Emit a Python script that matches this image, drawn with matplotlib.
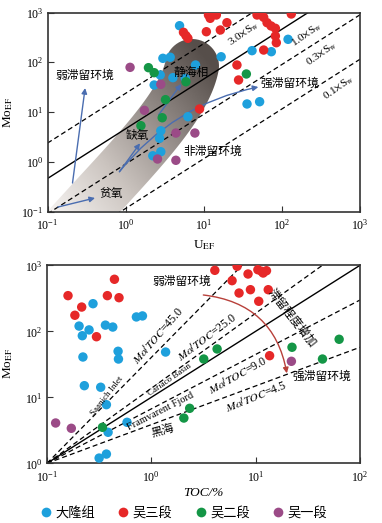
"""
Mo_EF vs U_EF and Mo_EF vs TOC cross-plots (two stacked log-log panels)
Output: out.png
"""

import matplotlib
matplotlib.use("Agg")
import matplotlib.pyplot as plt
import numpy as np
from matplotlib.colors import LinearSegmentedColormap
from matplotlib.patches import Polygon
from matplotlib.lines import Line2D
from matplotlib.ticker import LogLocator, NullLocator

plt.rcParams["font.family"] = ["Liberation Serif", "Noto Sans CJK SC"]
plt.rcParams["mathtext.fontset"] = "stix"

# ── data: top panel (U_EF, Mo_EF) ─────────────────────────────────────────────
u_dalong  = [4.9, 3.0, 3.72, 7.85, 2.77, 4.03, 5.8, 2.32, 6.27, 2.82, 2.72, 2.82, 2.23,
             120, 41.5, 73.3, 16.7, 35.8, 51.9]
mo_dalong = [543, 120, 126, 88, 55.5, 49, 47.5, 34.9, 8.05, 4.2, 2.96, 1.59, 1.32,
             289, 171, 163, 129, 14.5, 16.1]

u_wu3  = [5.5, 5.92, 6.27, 10.8, 8.83, 11.5, 14.5, 12.1, 19.8, 16.3, 48.1, 54.6, 58.5,
          64.6, 72.8, 82.6, 82.6, 84.9, 58.5, 132, 26.6, 27.9]
mo_wu3 = [400, 342, 303, 411, 11.5, 891, 891, 764, 624, 445, 891, 891, 800,
          624, 536, 481, 337, 247, 176, 933, 88, 44]

u_wu2  = [1.96, 2.32, 5.92, 3.24, 2.94, 1.57, 35.1]
mo_wu2 = [77.8, 61.7, 40.6, 17.7, 7.67, 5.31, 58.1]

u_wu1  = [1.14, 2.82, 1.74, 4.4, 7.7, 2.56, 4.4]
mo_wu1 = [79, 36, 10.8, 3.78, 3.78, 1.135, 1.07]

# Mo_EF / U_EF reference lines (3.0, 1.0, 0.3, 0.1 x seawater)
sw_ratio   = [23.7, 4.6, 0.9, 0.115]
sw_labels  = [r"3.0$\times$S$_{\rm w}$", r"1.0$\times$S$_{\rm w}$",
              r"0.3$\times$S$_{\rm w}$", r"0.1$\times$S$_{\rm w}$"]
sw_styles  = ["--", "-", "--", "--"]

# ── data: bottom panel (TOC %, Mo_EF) ─────────────────────────────────────────
toc_dalong = [0.276, 0.203, 0.253, 0.218, 0.363, 0.427, 0.719, 0.822, 0.221, 0.480,
              0.484, 1.37, 0.228, 0.327, 0.371, 0.585, 0.385, 0.316, 0.371]
mo2_dalong = [262, 120, 105, 85.7, 124, 116, 165, 171, 40.8, 49.8,
              38.0, 48.5, 15.0, 14.2, 7.73, 4.18, 2.95, 1.20, 1.38]

toc_wu3 = [0.443, 0.159, 0.379, 0.490, 0.215, 0.185, 0.298, 4.06, 6.64, 5.94,
           8.45, 10.5, 11.4, 12.7, 11.8, 6.93, 8.91, 13.2, 10.7, 13.6]
mo2_wu3 = [614, 347, 347, 323, 233, 175, 82.8, 839, 966, 585,
           738, 857, 811, 828, 764, 380, 427, 427, 285, 42.7]

toc_wu2 = [0.340, 2.33, 2.05, 3.18, 4.27, 22.3, 63.1, 43.7]
mo2_wu2 = [3.51, 6.81, 4.85, 38.0, 54.0, 57.3, 75.7, 38.0]

toc_wu1 = [0.121, 0.171, 22.0]
mo2_wu1 = [4.08, 3.39, 35.1]

# Mo/TOC reference lines, all start at (0.1, 1)
motoc_end_toc = [7.41, 43.6, 100, 100, 100]
motoc_end_mo  = [1000, 1000, 1000, 298, 57.3]
motoc_styles  = ["--", "--", "-", "--", "--"]

groups = ["大隆组", "吴三段", "吴二段", "吴一段"]

# ── colours ───────────────────────────────────────────────────────────────────
C_BLUE   = "#1ea0dc"
C_RED    = "#e62828"
C_GREEN  = "#149646"
C_PURPLE = "#9b4b87"
C_ARROW  = "#4a6db0"
C_RARROW = "#b8403a"
C_SPINE  = "#333333"

# ── layout (pixel boxes of the two panels) ────────────────────────────────────
W, H = 382, 523
def rect(l, t, r, b):
    return [l / W, 1 - b / H, (r - l) / W, (b - t) / H]

fig = plt.figure(figsize=(3.82, 5.23), dpi=100)
top_box = (47.5, 12.5, 360, 211.5)
bot_box = (47, 265.3, 360, 463.3)

# shaded euxinic band, drawn in pixel units on an axes behind the top panel
bg = fig.add_axes(rect(*top_box), zorder=0)
bg.axis("off")
pw, ph = top_box[2] - top_box[0], top_box[3] - top_box[1]

def to_xy(px, py):
    return px - top_box[0], top_box[3] - py

B = np.array([to_xy(60, 238), to_xy(118, 172), to_xy(183, 112), to_xy(192, 66)])
t = np.linspace(0, 1, 80)[:, None]
curve = ((1 - t) ** 3) * B[0] + 3 * ((1 - t) ** 2) * t * B[1] + 3 * (1 - t) * t ** 2 * B[2] + t ** 3 * B[3]
tang = 3 * ((1 - t) ** 2) * (B[1] - B[0]) + 6 * (1 - t) * t * (B[2] - B[1]) + 3 * t ** 2 * (B[3] - B[2])
tang = tang / np.linalg.norm(tang, axis=1, keepdims=True)
norm = np.column_stack([-tang[:, 1], tang[:, 0]])
hw = 27
left_side = curve + hw * norm
right_side = curve - hw * norm
phi = np.arctan2(tang[-1, 1], tang[-1, 0])
ang = np.linspace(phi - np.pi / 2, phi + np.pi / 2, 30)
cap = B[3] + hw * np.column_stack([np.cos(ang), np.sin(ang)])
band = np.vstack([right_side, cap, left_side[::-1]])
poly = Polygon(band, closed=True, facecolor="none", edgecolor="none")
bg.add_patch(poly)

gx, gy = np.meshgrid(np.linspace(0, pw, 200), np.linspace(0, ph, 130))
a = np.deg2rad(40)
grad = np.clip((gx * np.cos(a) + gy * np.sin(a)) / 220, 0, 1)
cmap = LinearSegmentedColormap.from_list("band", ["#f6f3f1", "#cbc4bf", "#918985", "#564e4a"])
im = bg.imshow(grad, extent=(0, pw, 0, ph), origin="lower", cmap=cmap, aspect="auto",
               vmin=0, vmax=1)
im.set_clip_path(poly)
bg.set_xlim(0, pw)
bg.set_ylim(0, ph)

ax1 = fig.add_axes(rect(*top_box), zorder=1)
ax1.patch.set_visible(False)
ax2 = fig.add_axes(rect(*bot_box))


def style_axes(ax):
    ax.set_xscale("log")
    ax.set_yscale("log")
    ax.xaxis.set_major_locator(LogLocator(base=10, numticks=10))
    ax.yaxis.set_major_locator(LogLocator(base=10, numticks=10))
    ax.xaxis.set_minor_locator(NullLocator())
    ax.yaxis.set_minor_locator(NullLocator())
    ax.tick_params(direction="in", length=4, width=0.8, labelsize=8.5, color=C_SPINE)
    ax.tick_params(axis="x", pad=5)
    ax.tick_params(axis="y", pad=3)
    for sp in ax.spines.values():
        sp.set_linewidth(1.2)
        sp.set_color(C_SPINE)


dash = (0, (4, 2.5))
mk = dict(s=46, edgecolors="none", zorder=5)

# ── top panel ────────────────────────────────────────────────────────────────
style_axes(ax1)
u_line = np.array([0.1, 1000])
for c, ls in zip(sw_ratio, sw_styles):
    ax1.plot(u_line, c * u_line, color="black", lw=1.0 if ls == "-" else 0.9,
             linestyle="-" if ls == "-" else dash, zorder=2)

ax1.scatter(u_dalong, mo_dalong, color=C_BLUE, **mk)
ax1.scatter(u_wu3, mo_wu3, color=C_RED, **mk)
ax1.scatter(u_wu2, mo_wu2, color=C_GREEN, **mk)
ax1.scatter(u_wu1, mo_wu1, color=C_PURPLE, **mk)

arr = dict(arrowstyle="-|>", color=C_ARROW, lw=1.0, mutation_scale=8, shrinkA=0, shrinkB=0)
ax1.annotate("", xy=(0.303, 30.3), xytext=(0.209, 0.374), arrowprops=arr, zorder=3)
ax1.annotate("", xy=(0.406, 0.187), xytext=(0.136, 0.123), arrowprops=arr, zorder=3)
ax1.annotate("", xy=(1.53, 2.35), xytext=(0.833, 0.631), arrowprops=arr, zorder=3)
ax1.annotate("", xy=(5.15, 36.6), xytext=(2.64, 8.7), arrowprops=arr, zorder=3)
ax1.annotate("", xy=(50, 31.8), xytext=(0.833, 0.631),
             arrowprops=dict(arr, connectionstyle="arc3,rad=-0.18"), zorder=3)

txt = dict(ha="center", va="center", fontsize=8.5, zorder=6)
ax1.text(0.303, 53, "弱滞留环境", **txt)
ax1.text(6.92, 60.8, "静海相", **txt)
ax1.text(128, 36.6, "强滞留环境", **txt)
ax1.text(13.2, 1.57, "非滞留环境", **txt)
ax1.text(1.40, 3.3, "缺氧", **txt)
ax1.text(0.652, 0.225, "贫氧", **txt)

sw_lab_u  = [32, 206, 321, 530]
sw_lab_mo = [370, 353, 147, 30.3]
for uu, mm, lab in zip(sw_lab_u, sw_lab_mo, sw_labels):
    ax1.text(uu, mm, lab, ha="center", va="center", fontsize=8, rotation=35,
             rotation_mode="anchor", zorder=6)

ax1.set_xlim(0.1, 1000)
ax1.set_ylim(0.1, 1000)
ax1.set_xlabel(r"U$_{\rm EF}$", fontsize=9.5)
ax1.set_ylabel(r"Mo$_{\rm EF}$", fontsize=9.5)
ax1.xaxis.set_label_coords(0.5, -0.135)
ax1.yaxis.set_label_coords(-0.104, 0.5)

# ── bottom panel ─────────────────────────────────────────────────────────────
style_axes(ax2)
for tx, my, ls in zip(motoc_end_toc, motoc_end_mo, motoc_styles):
    ax2.plot([0.1, tx], [1, my], color="black", lw=1.0 if ls == "-" else 0.9,
             linestyle="-" if ls == "-" else dash, zorder=2)

ax2.scatter(toc_dalong, mo2_dalong, color=C_BLUE, **mk)
ax2.scatter(toc_wu3, mo2_wu3, color=C_RED, **mk)
ax2.scatter(toc_wu2, mo2_wu2, color=C_GREEN, **mk)
ax2.scatter(toc_wu1, mo2_wu1, color=C_PURPLE, **mk)

ax2.annotate("", xy=(19.9, 23.1), xytext=(3.15, 355),
             arrowprops=dict(arrowstyle="-|>", color=C_RARROW, lw=1.0, mutation_scale=8,
                             shrinkA=0, shrinkB=0, connectionstyle="arc3,rad=-0.37"), zorder=3)

ax2.text(1.97, 559, "弱滞留环境", **txt)
ax2.text(43.4, 20.3, "强滞留环境", **txt)
ax2.text(22.3, 158, "滞留程度增加", ha="center", va="center", fontsize=8.5, rotation=-52,
         rotation_mode="anchor", zorder=6)

rot = dict(ha="center", va="center", rotation_mode="anchor", zorder=6)
ax2.text(1.16, 84.9, r"$Mo/TOC$=45.0", fontsize=8.5, rotation=49, **rot)
ax2.text(3.42, 82, r"$Mo/TOC$=25.0", fontsize=8.5, rotation=37, **rot)
ax2.text(6.78, 21.8, r"$Mo/TOC$=9.0", fontsize=8.5, rotation=29, **rot)
ax2.text(10.1, 10.1, r"$Mo/TOC$=4.5", fontsize=8.5, rotation=22, **rot)
ax2.text(0.376, 10.5, "Saanich Inlet", fontsize=6.5, rotation=52, **rot)
ax2.text(1.51, 18.3, "Cariaco Basin", fontsize=6.5, rotation=35, **rot)
ax2.text(1.24, 6.2, "Framvarent Fjord", fontsize=7.5, rotation=27, **rot)
ax2.text(1.29, 3.08, "黑海", fontsize=8.5, rotation=15, **rot)

ax2.set_xlim(0.1, 100)
ax2.set_ylim(1, 1000)
ax2.set_xlabel("TOC/%", fontsize=9.5, fontstyle="italic")
ax2.set_ylabel(r"Mo$_{\rm EF}$", fontsize=9.5)
ax2.xaxis.set_label_coords(0.5, -0.122)
ax2.yaxis.set_label_coords(-0.102, 0.506)

# ── legend ───────────────────────────────────────────────────────────────────
handles = [Line2D([], [], marker="o", linestyle="none", markersize=7, markeredgewidth=0,
                  color=c) for c in [C_BLUE, C_RED, C_GREEN, C_PURPLE]]
fig.legend(handles, groups, loc="center", bbox_to_anchor=(184 / W, 1 - 513 / H), ncol=4,
           frameon=False, fontsize=9.5, handlelength=0.8, handletextpad=0.3,
           columnspacing=1.75, borderpad=0)

fig.savefig("out.png", dpi=100)
print("Saved: out.png")
